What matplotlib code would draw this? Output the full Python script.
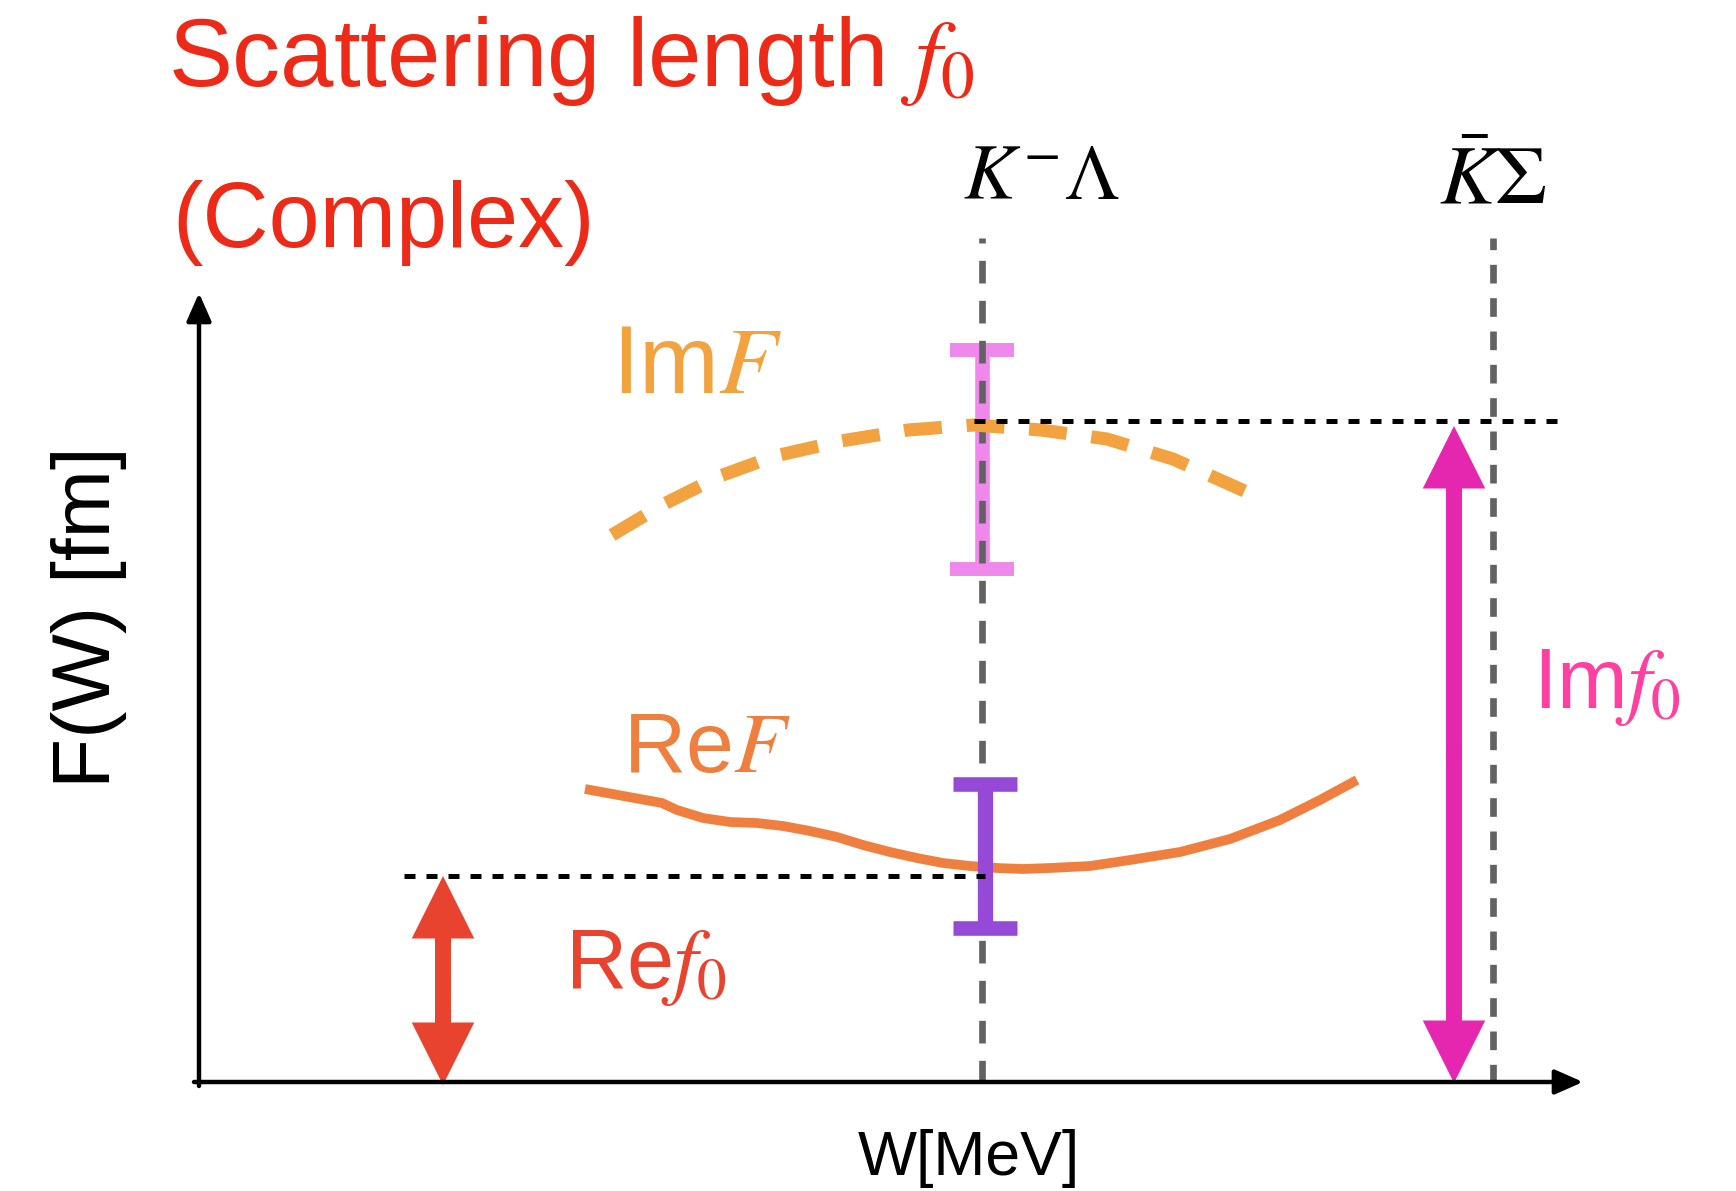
import matplotlib
matplotlib.use('Agg')
import matplotlib.pyplot as plt
from matplotlib.patches import FancyArrowPatch

plt.rcParams['font.family'] = ['Liberation Sans', 'DejaVu Sans']
plt.rcParams['mathtext.fontset'] = 'stix'

# schematic data (arbitrary units, origin at the axes corner)
imF_w = [4.13, 4.65, 5.21, 5.76, 6.42, 7.09, 7.75, 8.42, 9.08, 9.74, 10.50]
imF_val = [5.47, 5.78, 6.06, 6.26, 6.41, 6.52, 6.57, 6.52, 6.43, 6.23, 5.89]

reF_w = [3.86, 4.63, 4.78, 5.04, 5.31, 5.58, 5.84, 6.11, 6.38, 6.64, 6.91,
         7.18, 7.44, 7.71, 7.98, 8.24, 8.51, 8.91, 9.31, 9.81, 10.31, 10.81,
         11.21, 11.58]
reF_val = [2.93, 2.79, 2.72, 2.64, 2.60, 2.59, 2.56, 2.51, 2.45, 2.37, 2.30,
           2.24, 2.19, 2.16, 2.14, 2.13, 2.14, 2.16, 2.22, 2.30, 2.43, 2.62,
           2.82, 3.02]

thresholds = [7.83, 12.94]          # K^- Lambda, Kbar Sigma
threshold_labels = [r'$K^{-}\Lambda$', r'$\bar{K}\Sigma$']

im_err_center, im_err = 6.225, 1.095
re_err_center, re_err = 2.26, 0.72

re_f0 = 2.06
im_f0 = 6.60

fig = plt.figure(figsize=(17.36, 11.91), dpi=100)
ax = fig.add_axes([0, 0, 1, 1])
ax.set_xlim(-1.99, 15.37)
ax.set_ylim(-1.09, 10.82)
ax.axis('off')

# axes with arrow heads
for tip in [(13.84, 0), (0, 7.89)]:
    start = (-0.05, 0) if tip[1] == 0 else (0, -0.04)
    ax.annotate('', xy=tip, xytext=start,
                arrowprops=dict(arrowstyle='-|>,head_length=17,head_width=7.5',
                                mutation_scale=1, lw=3.2, color='black',
                                shrinkA=0, shrinkB=0), zorder=6)

# thresholds
ax.plot([thresholds[0]] * 2, [-0.01, 8.44], color='#626262', lw=4.8,
        linestyle=(0, (3.4, 2.6)), zorder=3)
ax.plot([thresholds[1]] * 2, [-0.01, 8.44], color='#626262', lw=4.8,
        linestyle=(0, (2.8, 2.2)), zorder=3)
ax.text(7.64, 8.83, threshold_labels[0], fontsize=56, color='black', va='baseline')
ax.text(12.40, 8.79, threshold_labels[1], fontsize=60, color='black', va='baseline')

# error bars
ax.errorbar([thresholds[0]], [im_err_center], yerr=[im_err], fmt='none',
            ecolor='#EE88EA', elinewidth=10.5, capsize=23, capthick=10, zorder=2)
ax.errorbar([thresholds[0] + 0.03], [re_err_center], yerr=[re_err], fmt='none',
            ecolor='#9549D6', elinewidth=11, capsize=23, capthick=10.5, zorder=5)

# curves
ax.plot(imF_w, imF_val, color='#F2A23F', lw=9.4, linestyle=(0, (2.9, 1.9)),
        zorder=4)
ax.plot(reF_w, reF_val, color='#EF7F3E', lw=7.0, solid_joinstyle='round',
        solid_capstyle='butt', zorder=4)

# reference levels
ax.plot([7.75, 13.62], [im_f0 + 0.01, im_f0 + 0.01], color='black', lw=3.6,
        linestyle=(0, (2.2, 2.2)), zorder=7)
ax.plot([2.05, 7.86], [re_f0, re_f0], color='black', lw=3.6,
        linestyle=(0, (2.2, 2.2)), zorder=7)


def double_arrow(x, y0, y1, color):
    mid = (y0 + y1) / 2
    for end, sgn in ((y0, 1), (y1, -1)):
        ax.add_patch(FancyArrowPatch((x, mid + sgn * 0.05), (x, end),
                                     arrowstyle='simple,head_length=45,head_width=45,tail_width=11.5',
                                     mutation_scale=1, color=color, lw=0,
                                     shrinkA=0, shrinkB=0, zorder=5))


double_arrow(12.55, -0.01, im_f0 - 0.04, '#E527B0')
double_arrow(2.44, -0.03, re_f0, '#E8432E')

# labels
ax.text(-0.31, 9.96, r'Scattering length $f_0$', fontsize=69, color='#EC2A17',
        va='baseline')
ax.text(-0.27, 8.35, '(Complex)', fontsize=66, color='#EC2A17', va='baseline')
ax.text(4.13, 6.89, r'Im$F$', fontsize=69, color='#F2A23F', va='baseline')
ax.text(4.24, 3.10, r'Re$F$', fontsize=62, color='#EF7F3E', va='baseline')
ax.text(3.66, 0.94, r'Re$f_0$', fontsize=61, color='#E8432E', va='baseline')
ax.text(13.34, 3.74, r'Im$f_0$', fontsize=61, color='#FF40A0', va='baseline')

ax.text(-1.10, 4.65, 'F(W) [fm]', fontsize=59, rotation=90, ha='center',
        va='center', color='black')
ax.text(7.70, -0.77, 'W[MeV]', fontsize=45, ha='center', va='center',
        color='black')

fig.savefig('out.png', dpi=100, facecolor='white')
